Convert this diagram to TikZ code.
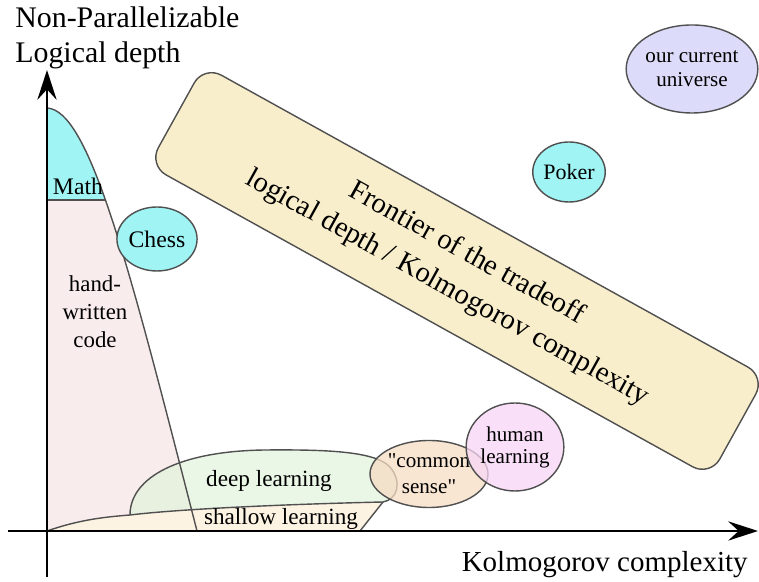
\documentclass[tikz,border=0pt]{standalone}
\usepackage{fontspec}
\setmainfont{Liberation Serif}
\newfontfamily\plainserif{Liberation Serif}
\usepackage{tikz}
\usetikzlibrary{arrows.meta,positioning}
\usetikzlibrary{shapes.geometric}
\definecolor{mathcyan}{HTML}{A0F4F4}
\definecolor{codepink}{HTML}{F9ECEC}
\definecolor{shallowbeige}{HTML}{FDF3E3}
\definecolor{deepgreen}{HTML}{E3F3DD}
\definecolor{sensepeach}{HTML}{F5DCC3}
\definecolor{humanpink}{HTML}{F7D6F5}
\definecolor{universeblue}{HTML}{DCDCFA}
\definecolor{frontieryellow}{HTML}{F9EECB}
\definecolor{edgegray}{HTML}{505050}
\tikzset{
  outline/.style={draw=edgegray, line width=0.8pt},
  bubble/.style={ellipse, outline, inner sep=0pt, align=center},
  axisline/.style={line width=1.2pt, -{Stealth[length=17pt,width=11pt,inset=6pt]}},
}

\begin{document}
\begin{tikzpicture}
  \useasboundingbox (0,0) rectangle (15.18,11.64);
  \coordinate (O) at (0.94,1.02);
  \coordinate (ytop) at (0.94,10.24);
  \coordinate (ybot) at (0.94,0.10);
  \coordinate (xleft) at (0.16,1.02);
  \coordinate (xright) at (15.16,1.02);

  % hand-written code, with math on top
  \fill[codepink] (0.94,9.48) .. controls (1.8,9.44) and (2.6,6.24) .. (3.94,1.02) -- (O) -- cycle;
  \begin{scope}
    \clip (0.94,9.48) .. controls (1.8,9.44) and (2.6,6.24) .. (3.94,1.02) -- (O) -- cycle;
    \fill[mathcyan] (0.94,7.64) rectangle (3,9.6);
    \draw[outline] (0.94,7.64) -- (3,7.64);
  \end{scope}

  % shallow and deep learning
  \fill[shallowbeige] (O) .. controls (1.6,1.25) and (2.1,1.3) .. (2.6,1.34)
     .. controls (3.5,1.45) and (5.5,1.55) .. (7.66,1.6) -- (7.2,1.02) -- cycle;
  \fill[deepgreen, fill opacity=0.75] (2.6,1.34) .. controls (2.6,2.1) and (3.6,2.62) .. (5.3,2.64)
     .. controls (6.5,2.65) and (7.5,2.62) .. (7.8,2.3)
     .. controls (8.05,2.0) and (7.95,1.65) .. (7.66,1.6)
     .. controls (5.5,1.55) and (3.5,1.45) .. (2.6,1.34) -- cycle;
  \draw[outline] (2.6,1.34) .. controls (2.6,2.1) and (3.6,2.62) .. (5.3,2.64)
     .. controls (6.5,2.65) and (7.5,2.62) .. (7.8,2.3)
     .. controls (8.05,2.0) and (7.95,1.65) .. (7.66,1.6);
  \draw[outline] (O) .. controls (1.6,1.25) and (2.1,1.3) .. (2.6,1.34)
     .. controls (3.5,1.45) and (5.5,1.55) .. (7.66,1.6) -- (7.2,1.02);
  \draw[outline] (0.94,9.48) .. controls (1.8,9.44) and (2.6,6.24) .. (3.94,1.02);

  % bubbles
  \node[bubble, fill=sensepeach, fill opacity=0.75, text opacity=1, minimum width=2.36cm, minimum height=1.34cm,
        font=\plainserif\fontsize{12}{15}\selectfont] (sense) at (8.58,2.16) {"common\\sense"};
  \node[bubble, fill=humanpink, fill opacity=0.75, text opacity=1, minimum width=1.72cm, minimum height=1.76cm,
        font=\fontsize{12}{12.5}\selectfont] (human) at (10.3,2.7) {human\\learning};
  \node[bubble, fill=mathcyan, minimum width=1.2cm, minimum height=1.28cm,
        font=\fontsize{13.5}{16}\selectfont] (chess) at (3.14,6.86) {Chess};
  \node[bubble, fill=mathcyan, minimum width=1.16cm, minimum height=1.2cm,
        font=\fontsize{12.5}{15}\selectfont] (poker) at (11.38,8.2) {Poker};
  \node[bubble, fill=universeblue, minimum width=2.38cm, minimum height=1.76cm,
        font=\fontsize{12}{13.5}\selectfont] (universe) at (13.84,10.26) {our current\\universe};

  % frontier
  \node[outline, fill=frontieryellow, rounded corners=0.4cm, rotate=-29, align=center,
        minimum width=12.84cm, minimum height=2.28cm, inner sep=0pt,
        font=\fontsize{16.4}{22.5}\selectfont] (frontier) at (9.14,6.22)
        {Frontier of the tradeoff\\logical depth / Kolmogorov complexity};

  % axes
  \draw[axisline] (ybot) -- (ytop);
  \draw[axisline] (xleft) -- (xright);

  % labels
  \node[font=\fontsize{13.5}{15}\selectfont] (math) at (1.56,7.92) {Math};
  \node[align=center, font=\fontsize{13}{16}\selectfont] (code) at (1.9,5.4) {hand-\\written\\code};
  \node[font=\fontsize{13.2}{16}\selectfont] (deep) at (5.38,2.02) {deep learning};
  \node[font=\fontsize{13.2}{16}\selectfont] (shallow) at (5.62,1.26) {shallow learning};
  \node[anchor=north west, inner sep=0pt, align=left, font=\fontsize{17}{20.4}\selectfont]
        (ylabel) at (0.30,11.52) {Non-Parallelizable\\Logical depth};
  \node[anchor=base east, inner sep=0pt, font=\fontsize{16.5}{20}\selectfont]
        (xlabel) at (14.96,0.2) {Kolmogorov complexity};
\end{tikzpicture}
\end{document}
